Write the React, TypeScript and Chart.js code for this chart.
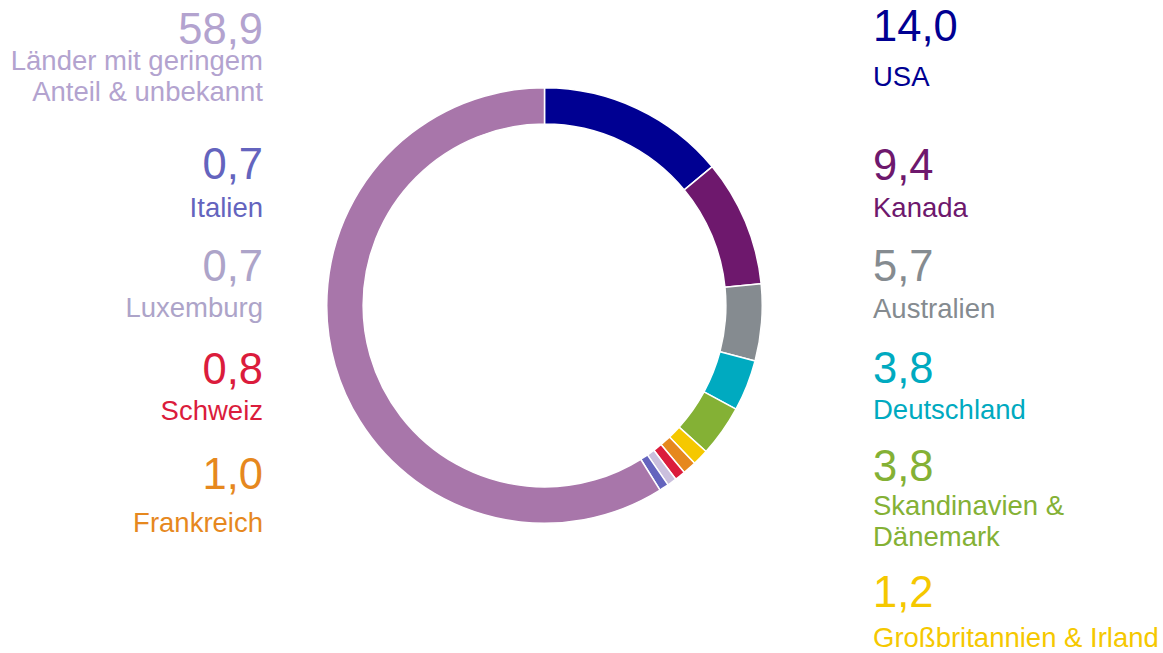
import React, { useEffect, useRef } from "react";
import { Chart, registerables } from "chart.js";

Chart.register(...registerables);

// ---- data ----
const categories = [
  "USA",
  "Kanada",
  "Australien",
  "Deutschland",
  "Skandinavien & Dänemark",
  "Großbritannien & Irland",
  "Frankreich",
  "Schweiz",
  "Luxemburg",
  "Italien",
  "Länder mit geringem Anteil & unbekannt",
];
const values = [14.0, 9.4, 5.7, 3.8, 3.8, 1.2, 1.0, 0.8, 0.7, 0.7, 58.9];
const labelLines = [
  ["USA"],
  ["Kanada"],
  ["Australien"],
  ["Deutschland"],
  ["Skandinavien &", "Dänemark"],
  ["Großbritannien & Irland"],
  ["Frankreich"],
  ["Schweiz"],
  ["Luxemburg"],
  ["Italien"],
  ["Länder mit geringem", "Anteil & unbekannt"],
];

// ---- styles ----
const sliceColors = [
  "#000092",
  "#6E186D",
  "#858B90",
  "#00AAC0",
  "#84B135",
  "#F5C800",
  "#E6881E",
  "#DB1C3C",
  "#CABFDD",
  "#6464BE",
  "#A876AA",
];
const textColors = [
  "#000092",
  "#6E186D",
  "#858B90",
  "#00AAC0",
  "#84B135",
  "#F5C800",
  "#E6881E",
  "#DB1C3C",
  "#ADA4C9",
  "#6464BE",
  "#B3A3CF",
];
// side, baseline of number, baselines of label lines
const layout: { side: "L" | "R"; num: number; lines: number[] }[] = [
  { side: "R", num: 42, lines: [86] },
  { side: "R", num: 181, lines: [217] },
  { side: "R", num: 282, lines: [318] },
  { side: "R", num: 384, lines: [419] },
  { side: "R", num: 482, lines: [515, 546] },
  { side: "R", num: 608, lines: [647] },
  { side: "L", num: 490, lines: [532] },
  { side: "L", num: 385, lines: [420] },
  { side: "L", num: 282, lines: [317] },
  { side: "L", num: 180, lines: [217] },
  { side: "L", num: 45, lines: [70, 101] },
];

const FONT = "'Liberation Sans', Arial, sans-serif";
const NUM_SIZE = 43.5;
const LBL_SIZE = 27.5;
const RIGHT_X = 873;
const LEFT_X = 263;

function TextAt(props: { text: string; baseline: number; size: number; color: string; side: "L" | "R" }) {
  const { text, baseline, size, color, side } = props;
  const top = baseline - 0.8465 * size;
  const style: React.CSSProperties = {
    position: "absolute",
    top,
    fontFamily: FONT,
    fontSize: size,
    lineHeight: `${size}px`,
    color,
    whiteSpace: "pre",
  };
  if (side === "R") style.left = RIGHT_X;
  else style.right = 1163 - LEFT_X;
  return <div style={style}>{text}</div>;
}

export default function App() {
  const ref = useRef<HTMLCanvasElement | null>(null);

  useEffect(() => {
    if (!ref.current) return;
    const chart = new Chart(ref.current, {
      type: "doughnut",
      data: {
        labels: categories,
        datasets: [
          {
            data: values,
            backgroundColor: sliceColors,
            borderColor: "#ffffff",
            borderWidth: 1.5,
            hoverOffset: 0,
          },
        ],
      },
      options: {
        responsive: false,
        animation: false,
        cutout: "83.3%",
        rotation: 0,
        layout: { padding: 0 },
        plugins: {
          legend: { display: false },
          tooltip: { enabled: false },
        },
      },
    });
    return () => chart.destroy();
  }, []);

  return (
    <div
      style={{
        position: "fixed",
        left: 0,
        top: 0,
        width: 1163,
        height: 653,
        background: "#ffffff",
        overflow: "hidden",
      }}
    >
      <canvas
        ref={ref}
        width={437}
        height={437}
        style={{ position: "absolute", left: 326, top: 87, width: 437, height: 437 }}
      />
      {values.map((v, i) => (
        <React.Fragment key={i}>
          <TextAt
            text={v.toFixed(1).replace(".", ",")}
            baseline={layout[i].num}
            size={NUM_SIZE}
            color={textColors[i]}
            side={layout[i].side}
          />
          {labelLines[i].map((ln, j) => (
            <TextAt
              key={j}
              text={ln}
              baseline={layout[i].lines[j]}
              size={LBL_SIZE}
              color={textColors[i]}
              side={layout[i].side}
            />
          ))}
        </React.Fragment>
      ))}
    </div>
  );
}
